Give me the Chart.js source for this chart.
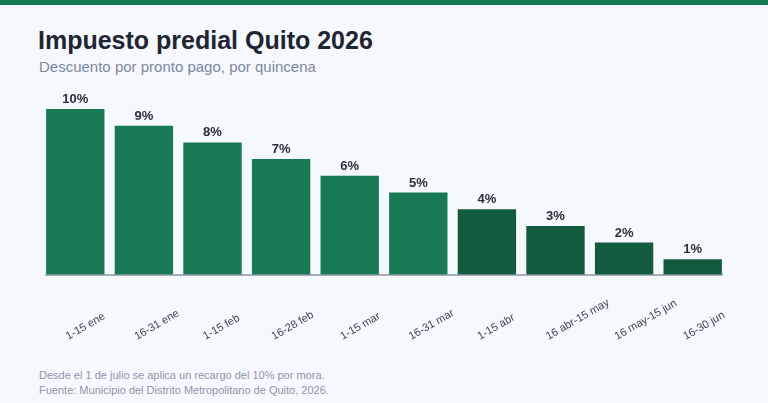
<!DOCTYPE html>
<html lang="es">
<head>
<meta charset="utf-8">
<title>Impuesto predial Quito 2026</title>
<script src="https://cdn.jsdelivr.net/npm/chart.js@4.4.1/dist/chart.umd.min.js"></script>
<style>
    html, body {
        margin: 0;
        padding: 0;
        width: 768px;
        height: 403px;
        overflow: hidden;
        background: #f5f8fc;
        font-family: "Liberation Sans", Arial, sans-serif;
    }
    .stripe {
        position: absolute;
        left: 0; top: 0;
        width: 768px; height: 5px;
        background: #177a55;
    }
    .title {
        position: absolute;
        left: 38px; top: 28px;
        font-size: 25px; line-height: 25px;
        font-weight: bold;
        color: #1f2532;
        white-space: nowrap;
    }
    .subtitle {
        position: absolute;
        left: 39px; top: 59px;
        font-size: 15px; line-height: 15px;
        color: #7d899c;
        white-space: nowrap;
    }
    .footer {
        position: absolute;
        left: 39px; top: 368px;
        font-size: 11px; line-height: 15px;
        color: #8c97a9;
        white-space: nowrap;
    }
    #wrap {
        position: absolute;
        left: 0; top: 0;
        width: 768px; height: 403px;
    }
</style>
</head>
<body>
<div class="stripe"></div>
<div class="title">Impuesto predial Quito 2026</div>
<div class="subtitle">Descuento por pronto pago, por quincena</div>
<div class="footer">Desde el 1 de julio se aplica un recargo del 10% por mora.<br>Fuente: Municipio del Distrito Metropolitano de Quito, 2026.</div>
<div id="wrap"><canvas id="chart"></canvas></div>

<script>
const periods = ['1-15 ene', '16-31 ene', '1-15 feb', '16-28 feb', '1-15 mar',
                 '16-31 mar', '1-15 abr', '16 abr-15 may', '16 may-15 jun', '16-30 jun'];
const discount = [10, 9, 8, 7, 6, 5, 4, 3, 2, 1];
// first quarter (ene-mar) in lighter green, rest darker
const barColors = ['#177a55', '#177a55', '#177a55', '#177a55', '#177a55',
                   '#177a55', '#125b3e', '#125b3e', '#125b3e', '#125b3e'];

// value labels above each bar
const valueLabels = {
    id: 'valueLabels',
    afterDatasetsDraw(chart) {
        const ctx = chart.ctx;
        const meta = chart.getDatasetMeta(0);
        ctx.save();
        ctx.font = 'bold 13px "Liberation Sans", Arial, sans-serif';
        ctx.fillStyle = '#2a2f3a';
        ctx.textAlign = 'center';
        ctx.textBaseline = 'alphabetic';
        meta.data.forEach((bar, i) => {
            ctx.fillText(discount[i] + '%', bar.x, bar.y - 5);
        });
        ctx.restore();
    }
};

// baseline only under the bars
const baseLine = {
    id: 'baseLine',
    afterDatasetsDraw(chart) {
        const ctx = chart.ctx;
        const bars = chart.getDatasetMeta(0).data;
        const first = bars[0], last = bars[bars.length - 1];
        const y = chart.scales.y.getPixelForValue(0);
        ctx.save();
        ctx.strokeStyle = '#8b95a7';
        ctx.lineWidth = 1.5;
        ctx.beginPath();
        ctx.moveTo(first.x - first.width / 2, y);
        ctx.lineTo(last.x + last.width / 2, y);
        ctx.stroke();
        ctx.restore();
    }
};

// rotated tick labels start at the tick and climb to the right
const tickAnchor = {
    id: 'tickAnchor',
    beforeDraw(chart) {
        const x = chart.scales.x;
        x.getLabelItems().forEach((item, i) => {
            item.textOffset = 0;
            item.options.textAlign = 'left';
            item.options.textBaseline = 'alphabetic';
            item.options.translation = [x.getPixelForTick(i) - 7, 340];
        });
    }
};

new Chart(document.getElementById('chart'), {
    type: 'bar',
    data: {
        labels: periods,
        datasets: [{
            data: discount,
            backgroundColor: barColors,
            borderColor: 'rgba(255, 255, 255, 0.18)',
            borderWidth: 1,
            barPercentage: 0.88,
            categoryPercentage: 1
        }]
    },
    options: {
        responsive: true,
        maintainAspectRatio: false,
        animation: false,
        layout: {
            padding: { left: 41, right: 41, top: 108, bottom: 0 }
        },
        plugins: {
            legend: { display: false },
            tooltip: { enabled: false }
        },
        scales: {
            x: {
                grid: { display: false },
                border: { display: false },
                ticks: {
                    autoSkip: false,
                    minRotation: 30,
                    maxRotation: 30,
                    color: '#3b4150',
                    font: { family: '"Liberation Sans", Arial, sans-serif', size: 11 }
                },
                afterFit(scale) {
                    scale.height = 128;
                    scale.paddingLeft = 0;
                    scale.paddingRight = 0;
                }
            },
            y: {
                display: false,
                min: 0,
                max: 10
            }
        }
    },
    plugins: [valueLabels, baseLine, tickAnchor]
});
</script>
</body>
</html>
